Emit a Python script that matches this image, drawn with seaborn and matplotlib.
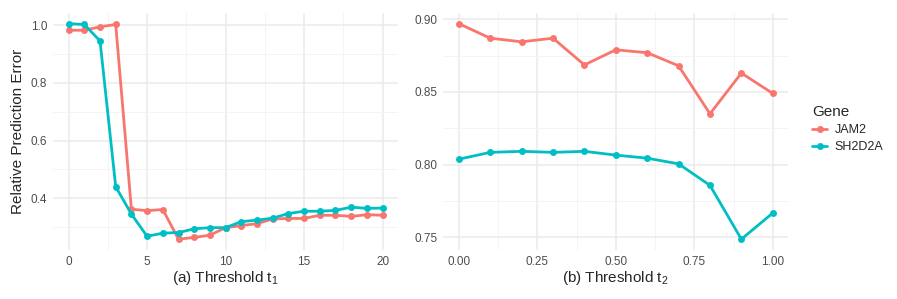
import pandas as pd
import matplotlib
matplotlib.use("Agg")
import matplotlib.pyplot as plt
import seaborn as sns
from matplotlib.lines import Line2D

# panel (a): threshold t1
t1 = list(range(21))
jam2_t1 = [0.983, 0.983, 0.995, 1.003, 0.362, 0.357, 0.361, 0.258, 0.264, 0.272, 0.298,
           0.305, 0.312, 0.328, 0.330, 0.330, 0.341, 0.341, 0.337, 0.343, 0.341]
sh2d2a_t1 = [1.006, 1.003, 0.946, 0.440, 0.345, 0.268, 0.279, 0.281, 0.294, 0.298, 0.298,
             0.319, 0.324, 0.331, 0.347, 0.355, 0.355, 0.358, 0.369, 0.365, 0.366]

# panel (b): threshold t2
t2 = [0.0, 0.1, 0.2, 0.3, 0.4, 0.5, 0.6, 0.7, 0.8, 0.9, 1.0]
jam2_t2 = [0.897, 0.887, 0.8845, 0.887, 0.8686, 0.879, 0.877, 0.868, 0.835, 0.863, 0.849]
sh2d2a_t2 = [0.8038, 0.8085, 0.8092, 0.8085, 0.8092, 0.8066, 0.8045, 0.8006, 0.7858, 0.7488, 0.7668]

genes = ["JAM2", "SH2D2A"]
palette = {"JAM2": "#F8766D", "SH2D2A": "#00BFC4"}

df_a = pd.DataFrame({"t": t1 * 2, "err": jam2_t1 + sh2d2a_t1,
                     "Gene": ["JAM2"] * len(t1) + ["SH2D2A"] * len(t1)})
df_b = pd.DataFrame({"t": t2 * 2, "err": jam2_t2 + sh2d2a_t2,
                     "Gene": ["JAM2"] * len(t2) + ["SH2D2A"] * len(t2)})

sns.set_style("white")
plt.rcParams["font.family"] = ["Liberation Sans", "DejaVu Sans"]
plt.rcParams["mathtext.fontset"] = "custom"
plt.rcParams["mathtext.rm"] = "Liberation Sans"
plt.rcParams["mathtext.it"] = "Liberation Sans"

fig = plt.figure(figsize=(8.97, 2.99), dpi=100)
ax1 = fig.add_axes([0.059, 0.164, 0.385, 0.793])
ax2 = fig.add_axes([0.494, 0.164, 0.385, 0.793])


def style(ax, majors_x, minors_x, majors_y, minors_y, xfmt):
    ax.set_xticks(majors_x)
    ax.set_xticks(minors_x, minor=True)
    ax.set_yticks(majors_y)
    ax.set_yticks(minors_y, minor=True)
    ax.set_xticklabels([xfmt.format(v) for v in majors_x])
    ax.grid(which="major", color="#EBEBEB", lw=1.1)
    ax.grid(which="minor", color="#F3F3F3", lw=0.6)
    ax.set_axisbelow(True)
    for s in ax.spines.values():
        s.set_visible(False)
    ax.tick_params(which="both", length=0, labelsize=8.5, labelcolor="#4D4D4D", pad=4)


for ax, df in [(ax1, df_a), (ax2, df_b)]:
    sns.lineplot(data=df, x="t", y="err", hue="Gene", palette=palette, ax=ax,
                 marker="o", markersize=5, markeredgewidth=0, linewidth=2, legend=False)

ax1.margins(x=0.05, y=0.05)
ax2.margins(x=0.05, y=0.05)

style(ax1, [0, 5, 10, 15, 20], [2.5, 7.5, 12.5, 17.5],
      [0.4, 0.6, 0.8, 1.0], [0.3, 0.5, 0.7, 0.9], "{:g}")
ax1.set_yticklabels(["0.4", "0.6", "0.8", "1.0"])
style(ax2, [0.0, 0.25, 0.5, 0.75, 1.0], [0.125, 0.375, 0.625, 0.875],
      [0.75, 0.80, 0.85, 0.90], [0.775, 0.825, 0.875], "{:.2f}")
ax2.set_yticklabels(["0.75", "0.80", "0.85", "0.90"])

ax1.set_xlabel(r"(a) Threshold t$_{\mathregular{1}}$", fontsize=11, labelpad=1)
ax2.set_xlabel(r"(b) Threshold t$_{\mathregular{2}}$", fontsize=11, labelpad=1)
ax1.set_ylabel("Relative Prediction Error", fontsize=11, labelpad=4)
ax2.set_ylabel("")

handles = [Line2D([], [], color=palette[g], lw=2, marker="o", ms=5, markeredgewidth=0)
           for g in genes]
leg = fig.legend(handles, genes, title="Gene", loc="upper left",
                 bbox_to_anchor=(0.893, 0.685), frameon=False, fontsize=9,
                 title_fontsize=11, handlelength=1.2, handletextpad=0.6,
                 labelspacing=0.4)
leg._legend_box.align = "left"

fig.savefig("out.png", dpi=100)
